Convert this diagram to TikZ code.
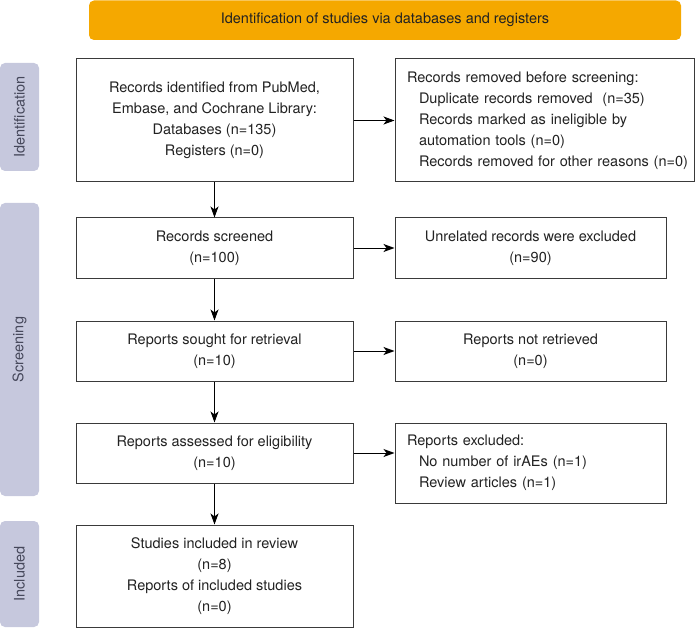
\documentclass[tikz,border=0pt]{standalone}
\usepackage{fontspec}
\setmainfont{TeX Gyre Heros}
\usetikzlibrary{arrows.meta}
\definecolor{hdrfill}{HTML}{F5A800}
\definecolor{sidefill}{HTML}{C6C8DD}
\definecolor{sidetxt}{HTML}{45475A}
\definecolor{boxline}{HTML}{3A3A3A}
\definecolor{txt}{HTML}{222222}
\begin{document}
\begin{tikzpicture}[x=1pt,y=-1pt,
  box/.style={draw=boxline, line width=1pt, fill=white, text=txt,
    font=\fontsize{14.5}{21}\selectfont, align=center, inner sep=0pt},
  lbox/.style={box, align=left, inner xsep=12pt, inner ysep=0pt},
  sidelab/.style={fill=sidefill, rounded corners=5pt, text=sidetxt,
    font=\fontsize{14.5}{17}\selectfont, rotate=90, inner sep=0pt,
    minimum height=39pt},
  hdrbox/.style={fill=hdrfill, rounded corners=5pt, text=txt,
    font=\fontsize{14.5}{17}\selectfont, inner sep=0pt},
  arr/.style={draw=black, line width=1pt, -{Stealth[length=11pt,width=8pt,inset=3pt]}}
]
\useasboundingbox (0,0) rectangle (695,628);

% header
\node[hdrbox, minimum width=592pt, minimum height=39.5pt] (hdr) at (385,20.25)
  {Identification of studies via databases and registers};

% side labels
\node[sidelab, minimum width=108pt] (sid) at (19.5,117) {Identification};
\node[sidelab, minimum width=293pt] (ssc) at (19.5,349.5) {Screening};
\node[sidelab, minimum width=106pt] (sin) at (19.5,574) {Included};

% left column
\node[box, minimum width=277pt, minimum height=123pt] (b1) at (214.5,120.5)
  {Records identified from PubMed,\\Embase, and Cochrane Library:\\Databases (n=135)\\Registers (n=0)};
\node[box, minimum width=277pt, minimum height=60pt] (b2) at (214.5,248)
  {Records screened\\(n=100)};
\node[box, minimum width=277pt, minimum height=60pt] (b3) at (214.5,351)
  {Reports sought for retrieval\\(n=10)};
\node[box, minimum width=277pt, minimum height=60pt] (b4) at (214.5,453)
  {Reports assessed for eligibility\\(n=10)};
\node[box, minimum width=277pt, minimum height=102pt] (b5) at (214.5,576)
  {Studies included in review\\(n=8)\\Reports of included studies\\(n=0)};

% right column
\node[lbox, text width=275pt, minimum height=123pt] (r1) at (544.5,120.5)
  {\mbox{Records removed before screening:}\\
   \hspace*{12pt}\mbox{Duplicate records removed\ \ (n=35)}\\
   \hspace*{12pt}\mbox{Records marked as ineligible by}\\
   \hspace*{12pt}\mbox{automation tools (n=0)}\\
   \hspace*{12pt}\mbox{Records removed for other reasons (n=0)}};
\node[box, minimum width=271pt, minimum height=60pt] (r2) at (530.5,248)
  {Unrelated records were excluded\\(n=90)};
\node[box, minimum width=271pt, minimum height=60pt] (r3) at (530.5,351)
  {Reports not retrieved\\(n=0)};
\node[lbox, text width=247pt, minimum height=80pt] (r4) at (530.5,463)
  {\mbox{Reports excluded:}\\
   \hspace*{12pt}\mbox{No number of irAEs (n=1)}\\
   \hspace*{12pt}\mbox{Review articles (n=1)}};

% connectors
\draw[arr] (b1) -- (b2);
\draw[arr] (b2) -- (b3);
\draw[arr] (b3) -- (b4);
\draw[arr] (b4) -- (b5);
\draw[arr] (b1) -- (r1);
\draw[arr] (b2) -- (r2);
\draw[arr] (b3) -- (r3);
\draw[arr] (b4.east) -- (b4.east -| r4.west);
\end{tikzpicture}
\end{document}
